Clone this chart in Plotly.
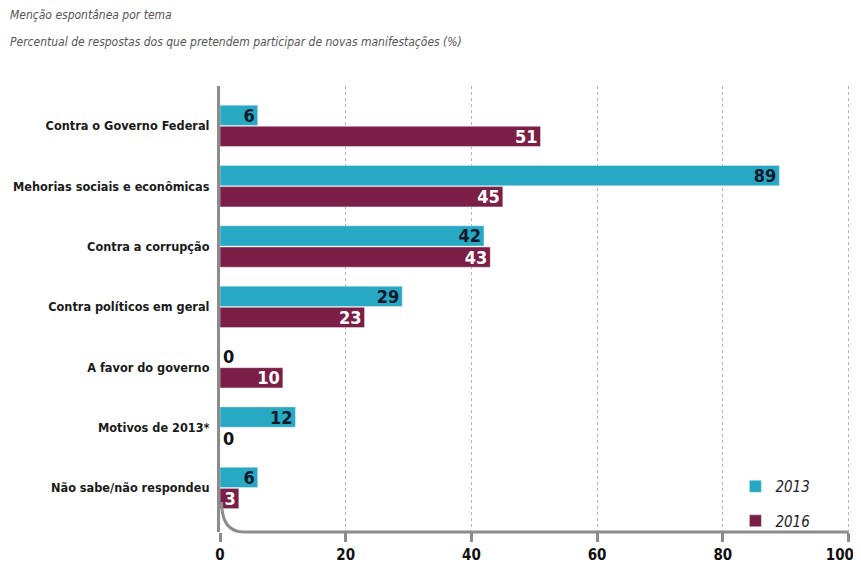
import plotly.graph_objects as go

categorias = ["Contra o Governo Federal", "Mehorias sociais e econômicas", "Contra a corrupção",
              "Contra políticos em geral", "A favor do governo", "Motivos de 2013*",
              "Não sabe/não respondeu"]
v2013 = [6, 89, 42, 29, 0, 12, 6]
v2016 = [51, 45, 43, 23, 10, 0, 3]
ticks_x = [0, 20, 40, 60, 80, 100]

teal = "#27a8c3"
maroon = "#7b1f46"
cinza = "#8c8c8c"
fonte = "DejaVu Sans Condensed, Roboto, Arial, sans-serif"

# a página tem 8px de margem no body: o gráfico fica deslocado (8, 8)
off = 8
xmax = 100.4
W, H = 861 - off, 566 - off
ml, mt = 220 - off, 86 - off
x_dir = 220 + (848 - 220) * xmax / 100  # borda direita da área do gráfico
mr = W - (x_dir - off)
mb = H - (532 - off)
pw = W - ml - mr
ph = H - mt - mb


def pos(vals):
    return ["outside" if v == 0 else "inside" for v in vals]


def cores(vals, cor_dentro):
    return ["#111111" if v == 0 else cor_dentro for v in vals]


fig = go.Figure()
fig.add_trace(go.Bar(
    y=categorias, x=v2013, orientation="h", name="<i>2013</i>", marker_color=teal,
    text=[str(v) for v in v2013], textposition=pos(v2013), insidetextanchor="end",
    texttemplate="<b>%{text}</b>", textangle=0,
    textfont=dict(family=fonte, size=18, color=cores(v2013, "#0e1a2b")),
    constraintext="none", cliponaxis=False, legendgroup="a",
))
fig.add_trace(go.Bar(
    y=categorias, x=v2016, orientation="h", name="<i>2016</i>", marker_color=maroon,
    text=[str(v) for v in v2016], textposition=pos(v2016), insidetextanchor="end",
    texttemplate="<b>%{text}</b>", textangle=0,
    textfont=dict(family=fonte, size=18, color=cores(v2016, "white")),
    constraintext="none", cliponaxis=False, legendgroup="b",
))

# eixo em curva no canto inferior esquerdo
y0 = (532 - 502) / ph
fig.add_shape(type="path", xref="x", yref="paper",
              path=f"M 0.25 {y0} C 0.25 0.02, 1.5 0, 3.8 0 L 100 0",
              line=dict(color=cinza, width=3))

fig.add_annotation(text="<i>Menção espontânea por tema</i>", xref="paper", yref="paper",
                   x=-ml / pw, y=1 + (mt - 15 + off) / ph, xanchor="left", yanchor="middle",
                   showarrow=False, font=dict(family=fonte, size=12, color="#555555"))
fig.add_annotation(text="<i>Percentual de respostas dos que pretendem participar de novas manifestações (%)</i>",
                   xref="paper", yref="paper",
                   x=-ml / pw, y=1 + (mt - 42 + off) / ph, xanchor="left", yanchor="middle",
                   showarrow=False, font=dict(family=fonte, size=12, color="#555555"))

# rótulo "100" puxado um pouco para a esquerda para não ser cortado na borda
rotulos_x = [f"<b>{t}</b>" for t in ticks_x]
rotulos_x[-1] = "<b>100</b>" + "\u00a0" * 4

fig.update_layout(
    width=W, height=H,
    margin=dict(l=ml, r=mr, t=mt, b=mb, autoexpand=False),
    paper_bgcolor="white", plot_bgcolor="white",
    barmode="group", bargap=0.3, bargroupgap=0.04,
    showlegend=True,
    legend=dict(x=(735 - 220) / pw, y=-5 / ph, xanchor="left", yanchor="bottom",
                traceorder="grouped", tracegroupgap=12, itemwidth=30,
                font=dict(family=fonte, size=15, color="#222222"),
                bgcolor="rgba(0,0,0,0)"),
    font=dict(family=fonte),
)
fig.update_xaxes(range=[0, xmax], tickvals=ticks_x, ticktext=rotulos_x,
                 ticklabeloverflow="allow",
                 showgrid=True, gridcolor="#b5b5b5",
                 griddash="dot", gridwidth=1, zeroline=False, showline=False, automargin=False,
                 ticks="outside", ticklen=9, tickwidth=3, tickcolor=cinza,
                 tickfont=dict(family=fonte, size=15, color="#111111"))
fig.update_yaxes(categoryorder="array", categoryarray=categorias, range=[6.73, -0.66],
                 tickvals=categorias, ticktext=[f"<b>{c}</b>" for c in categorias],
                 showline=True, linecolor=cinza, linewidth=3, showgrid=False, automargin=False,
                 ticks="", ticklabelstandoff=5,
                 tickfont=dict(family=fonte, size=12.6, color="#1a1a1a"))

fig.write_html("out.html")
